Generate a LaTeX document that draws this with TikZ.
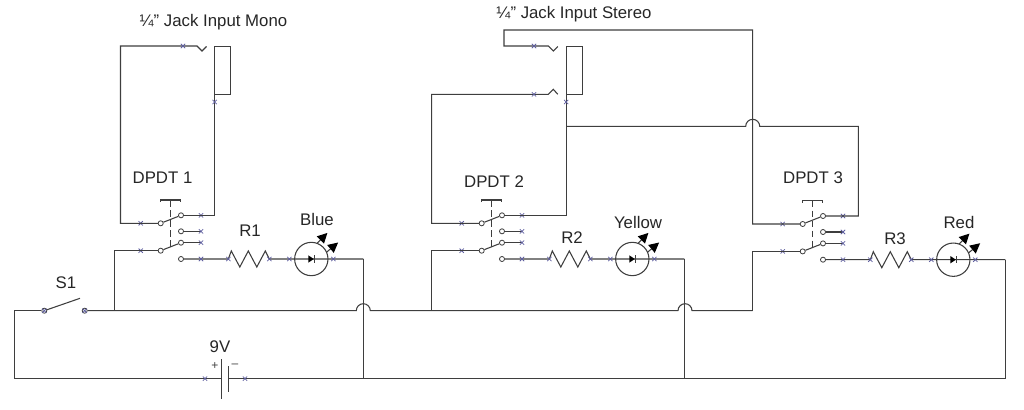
\documentclass[tikz,border=0pt]{standalone}
\usepackage{fontspec}
\setmainfont{Liberation Sans}
\usetikzlibrary{arrows.meta,shapes.misc}
\definecolor{wirecol}{HTML}{3E3E3E}
\definecolor{pincol}{HTML}{5F5F9F}
\tikzset{
  wire/.style={draw=wirecol,line width=0.8pt},
  contact/.style={circle,draw=wirecol,fill=white,line width=0.6pt,inner sep=0pt,minimum size=3.8pt},
  pinmark/.style={cross out,draw=pincol,line width=0.55pt,inner sep=0pt,outer sep=0pt,minimum size=3.2pt},
  sleeve/.style={rectangle,draw=wirecol,line width=0.8pt,inner sep=0pt,outer sep=0pt,minimum width=12pt,minimum height=36.2pt},
  ledbody/.style={circle,draw=wirecol,line width=0.8pt,inner sep=0pt,outer sep=0pt,minimum size=25pt},
  ledray/.style={draw=wirecol,line width=0.8pt,-{Triangle[length=7.5pt,width=7.5pt,color=black]}},
  lbl/.style={inner sep=0pt,font=\fontsize{12.6}{15}\selectfont,text=black!85},
  plusminus/.style={inner sep=0pt,font=\fontsize{9}{10}\selectfont,text=black!75}
}
\begin{document}
\begin{tikzpicture}[x=0.75pt,y=-0.75pt]
    \useasboundingbox (0,0) rectangle (1024,410);

    % The three switches with resistor and LED
    \foreach \sw/\dx/\dy in {1/0/0,2/321/0,3/642/0.7} {
      \begin{scope}[shift={(\dx,\dy)}]
        \node[contact] (poleA\sw) at (160.7,223.3) {};
        \node[contact] (poleB\sw) at (160.7,250.7) {};
        \node[contact] (contA\sw) at (181,215.3) {};
        \node[contact] (contB\sw) at (181,231.3) {};
        \node[contact] (contC\sw) at (181,242.7) {};
        \node[contact] (contD\sw) at (181,259) {};
        \node[ledbody] (led\sw) at (311.3,259) {};
        \coordinate (resL\sw) at (228.3,259);
        \coordinate (resR\sw) at (269.3,259);
        \coordinate (ledOut\sw) at (363.3,259);
        \coordinate (stubB\sw) at (201,231.3);
        \coordinate (stubC\sw) at (201,242.7);

        % Blades and actuator
        \draw[wire] (poleA\sw) -- (contA\sw);
        \draw[wire] (poleB\sw) -- (contC\sw);
        \draw[wire,dash pattern=on 5pt off 2.5pt] (170.7,200) -- (170.7,247.5);
        \draw[wire] (160.7,202) -- (160.7,200) -- (180.7,200) -- (180.7,202);

        % Contact stubs
        \draw[wire] (contB\sw) -- (stubB\sw);
        \draw[wire] (contC\sw) -- (stubC\sw);

        % Resistor
        \draw[wire] (contD\sw) -- (resL\sw) -- ++(3,-8) -- ++(8.5,16) -- ++(8.5,-16)
          -- ++(8.5,16) -- ++(8.5,-16) -- (resR\sw) -- (ledOut\sw);

        % LED
        \fill[black] (308.3,255.3) -- (313.8,259) -- (308.3,262.7) -- cycle;
        \draw[wire] (314.3,255.3) -- (314.3,262.7);
        \draw[ledray] (led\sw.70) -- ++(10.4,-10.4);
        \draw[ledray] (led\sw.24) -- ++(11.6,-9.7);

        % Small marks on the wires
        \foreach \px/\py [count=\i] in {140.7/223.3,140.7/250.7,201/215.3,201/231.3,201/242.7,201/259,228.3/259,269.3/259,289.3/259,333.3/259} {
          \node[pinmark] (pin\sw\i) at (\px,\py) {};
        }
      \end{scope}
    }

    % Mono jack
    \node[sleeve] (sleeveM) at (222.7,70.2) {};
    \coordinate (cornerM) at (120.5,46);
    \coordinate (tipM) at (197,46);
    \draw[wire] (poleA1) -| (cornerM) -- (tipM) -- ++(5,5) -- ++(4.5,-4.5);
    \draw[wire] (sleeveM.south west) |- (contA1);
    \node[pinmark] (pinTipM) at (183,46) {};
    \node[pinmark] (pinSlvM) at (214.7,102) {};

    % Stereo jack
    \node[sleeve] (sleeveS) at (574.2,70.2) {};
    \coordinate (cornerS) at (504,46);
    \coordinate (tipS) at (548.3,46);
    \coordinate (topS) at (752.7,30);
    \coordinate (ringS) at (548.3,94.3);
    \coordinate (cornerR) at (431.7,94.3);
    \coordinate (branchS) at (566.2,126.3);
    \coordinate (cornerB) at (858.3,126.3);
    \draw[wire] (poleA3) -| (topS) -| (cornerS) -- (tipS) -- ++(5,5) -- ++(4.5,-4.5);
    \draw[wire] (poleA2) -| (cornerR) -- (ringS) -- ++(5,-5) -- ++(4.5,5);
    \draw[wire] (sleeveS.south west) |- (contA2);
    \draw[wire] (branchS) -- (745.7,126.3) arc[start angle=180,end angle=360,radius=7] -- (cornerB) |- (contA3);
    \node[pinmark] (pinTipS) at (534,46) {};
    \node[pinmark] (pinRingS) at (534,94.3) {};
    \node[pinmark] (pinSlvS) at (566.2,102) {};

    % Power switch and supply bus
    \node[contact] (S1a) at (44.3,310.7) {};
    \node[contact] (S1b) at (84.7,310.7) {};
    \node[pinmark] (pinS1a) at (S1a) {};
    \node[pinmark] (pinS1b) at (S1b) {};
    \draw[wire] (S1a) -- (80,298.3);
    \coordinate (busA) at (114.7,310.7);
    \coordinate (busB) at (431.7,310.7);
    \coordinate (busC) at (752.7,310.7);
    \draw[wire] (S1b) -- (356.3,310.7) arc[start angle=180,end angle=360,radius=7]
      -- (678,310.7) arc[start angle=180,end angle=360,radius=7] -- (busC);
    \draw[wire] (poleB1) -| (busA);
    \draw[wire] (poleB2) -| (busB);
    \draw[wire] (poleB3) -| (busC);

    % Battery and return line
    \coordinate (batP) at (221.7,378.7);
    \coordinate (batN) at (228.3,378.7);
    \coordinate (cornerL) at (14.3,378.7);
    \draw[wire] (batP) ++(0,-19.7) -- ++(0,40.3);
    \draw[wire] (batN) ++(0,-12.7) -- ++(0,26);
    \draw[wire] (S1a) -| (cornerL) -- (batP);
    \draw[wire] (ledOut3) |- (batN);
    \draw[wire] (ledOut1) -- (ledOut1 |- batN);
    \draw[wire] (ledOut2) -- (ledOut2 |- batN);
    \node[pinmark] (pinBatP) at (205,378.7) {};
    \node[pinmark] (pinBatN) at (245,378.7) {};
    \node[plusminus] (plusB) at (215,365.7) {+};
    \node[plusminus] (minusB) at (235,365.7) {–};

    % Labels
    \node[lbl] (lblMono) at (213.5,22) {¼” Jack Input Mono};
    \node[lbl] (lblStereo) at (574,14) {¼” Jack Input Stereo};
    \node[lbl] (lblD1) at (162.5,178) {DPDT 1};
    \node[lbl] (lblD2) at (494,182) {DPDT 2};
    \node[lbl] (lblD3) at (813,178) {DPDT 3};
    \node[lbl] (lblR1) at (250,231) {R1};
    \node[lbl] (lblR2) at (572,238) {R2};
    \node[lbl] (lblR3) at (895,239) {R3};
    \node[lbl] (lblBlue) at (317,219) {Blue};
    \node[lbl] (lblYellow) at (638,222) {Yellow};
    \node[lbl] (lblRed) at (959,222) {Red};
    \node[lbl] (lblS1) at (66,283) {S1};
    \node[lbl] (lbl9V) at (220,347) {9V};
\end{tikzpicture}
\end{document}
